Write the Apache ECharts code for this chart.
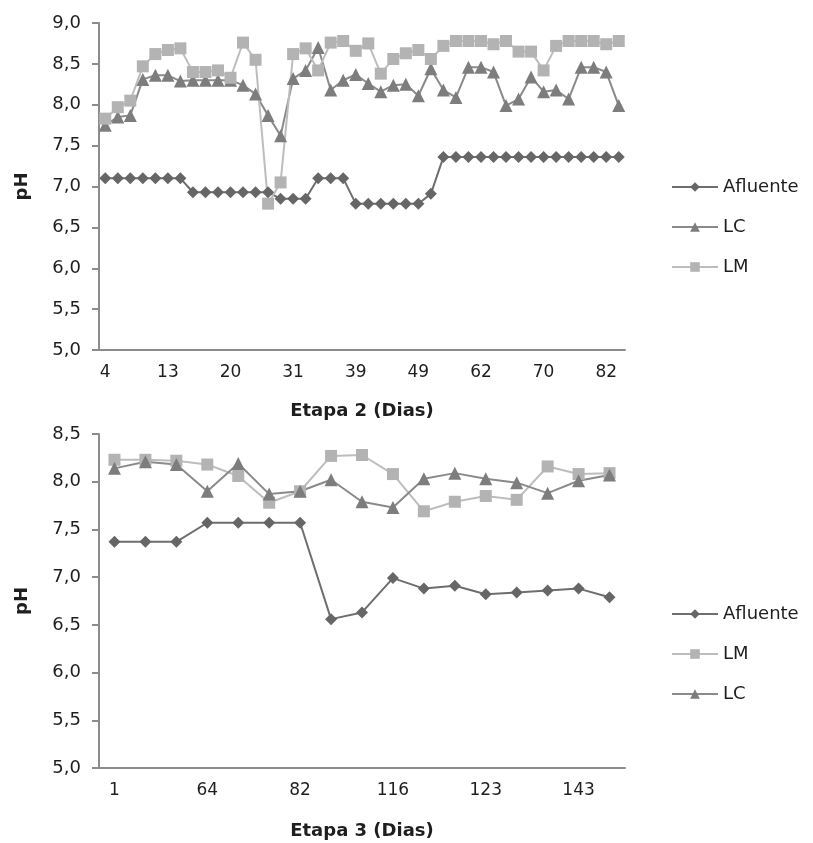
<!DOCTYPE html>
<html>
<head>
<meta charset="utf-8">
<script src="https://cdn.jsdelivr.net/npm/echarts@6/dist/echarts.min.js"></script>
<style>
html,body{margin:0;padding:0;background:#fff;}
#c{width:813px;height:843px;}
</style>
</head>
<body>
<div id="c"></div>
<script>
// ---- Etapa 2 (top chart) ----
const topTickLabels = ['4','13','20','31','39','49','62','70','82'];
const topAfluente = [7.10,7.10,7.10,7.10,7.10,7.10,7.10,
  6.93,6.93,6.93,6.93,6.93,6.93,6.93,
  6.85,6.85,6.85,
  7.10,7.10,7.10,
  6.79,6.79,6.79,6.79,6.79,6.79,
  6.91,
  7.36,7.36,7.36,7.36,7.36,7.36,7.36,7.36,7.36,7.36,7.36,7.36,7.36,7.36,7.36];
const topLC = [7.75,7.85,7.87,8.31,8.36,8.36,8.29,8.30,8.30,8.30,8.30,8.24,8.13,7.87,7.62,8.32,8.42,8.70,8.18,8.30,
  8.37,8.26,8.16,8.24,8.25,8.11,8.44,8.18,8.09,8.46,8.46,8.40,7.99,8.07,8.34,8.16,8.18,8.07,8.46,8.46,8.40,7.99];
const topLM = [7.83,7.97,8.05,8.47,8.62,8.67,8.69,8.40,8.40,8.42,8.33,8.76,8.55,6.79,7.05,8.62,8.69,8.42,8.76,8.78,
  8.66,8.75,8.38,8.56,8.63,8.67,8.56,8.72,8.78,8.78,8.78,8.74,8.78,8.65,8.65,8.42,8.72,8.78,8.78,8.78,8.74,8.78];

// ---- Etapa 3 (bottom chart) ----
const botTickLabels = ['1','64','82','116','123','143'];
const botAfluente = [7.37,7.37,7.37,7.57,7.57,7.57,7.57,6.56,6.63,6.99,6.88,6.91,6.82,6.84,6.86,6.88,6.79];
const botLM = [8.23,8.23,8.22,8.18,8.06,7.78,7.90,8.27,8.28,8.08,7.69,7.79,7.85,7.81,8.16,8.08,8.09];
const botLC = [8.14,8.21,8.18,7.90,8.19,7.87,7.90,8.02,7.79,7.73,8.03,8.09,8.03,7.99,7.88,8.01,8.07];

function buildCats(n, labels, step){
  const out = [];
  for (let i = 0; i < n; i++) out.push(i % step === 0 ? labels[i / step] : ' '.repeat(i % step));
  return out;
}
const topCats = buildCats(topAfluente.length, topTickLabels, 5);
const botCats = buildCats(botAfluente.length, botTickLabels, 3);

const FONT = 'DejaVu Sans';
const TXT = '#1e1e1e';
const AXC = '#8c8c8c';
const C_AF = '#666666', C_LC = '#7d7d7d', C_LM = '#b3b3b3';

function xAx(gi, cats, step, name, gap){
  return {
    type:'category', gridIndex:gi, data:cats, boundaryGap:true,
    axisLine:{lineStyle:{color:AXC,width:2}}, axisTick:{show:false},
    axisLabel:{interval:step-1, color:TXT, fontFamily:FONT, fontSize:17, margin:14},
    name:name, nameLocation:'middle', nameGap:gap,
    nameTextStyle:{color:TXT, fontFamily:FONT, fontSize:18, fontWeight:'bold'}
  };
}
function yAx(gi, max){
  return {
    type:'value', gridIndex:gi, min:5, max:max, interval:0.5,
    axisLine:{show:true, lineStyle:{color:AXC,width:2}},
    axisTick:{show:true, length:7, lineStyle:{color:AXC,width:2}},
    splitLine:{show:false},
    axisLabel:{color:TXT, fontFamily:FONT, fontSize:18, margin:18,
      formatter:v=>v.toFixed(1).replace('.',',')},
    name:'pH', nameLocation:'middle', nameGap:68,
    nameTextStyle:{color:TXT, fontFamily:FONT, fontSize:18, fontWeight:'bold'}
  };
}
function ser(name, data, gi, color, lineColor, symbol, size){
  return {
    name, type:'line', xAxisIndex:gi, yAxisIndex:gi, data,
    symbol, symbolSize:size, showSymbol:true, showAllSymbol:true,
    lineStyle:{color:lineColor, width:2},
    itemStyle:{color:color, borderWidth:0},
    animation:false
  };
}
const legendBase = {
  orient:'vertical', itemWidth:46, itemHeight:12, itemGap:20,
  textStyle:{color:TXT, fontFamily:FONT, fontSize:18, lineHeight:20},
  selectedMode:false
};

const chart = echarts.init(document.getElementById('c'), null, {renderer:'canvas'});
chart.setOption({
  backgroundColor:'#fff',
  animation:false,
  grid:[
    {left:99, top:23, width:526, height:327},
    {left:99, top:434, width:526, height:334}
  ],
  xAxis:[xAx(0, topCats, 5, 'Etapa 2 (Dias)', 52), xAx(1, botCats, 3, 'Etapa 3 (Dias)', 54)],
  yAxis:[yAx(0, 9), yAx(1, 8.5)],
  legend:[
    Object.assign({}, legendBase, {left:666, top:172, data:['Afluente','LC','LM']}),
    Object.assign({}, legendBase, {left:666, top:599, data:['Afluente','LM','LC']})
  ],
  series:[
    ser('Afluente', topAfluente, 0, C_AF, '#6e6e6e', 'diamond', 12),
    ser('LC', topLC, 0, C_LC, '#8a8a8a', 'triangle', 13),
    ser('LM', topLM, 0, C_LM, '#bdbdbd', 'rect', 12),
    ser('Afluente', botAfluente, 1, C_AF, '#6e6e6e', 'diamond', 12),
    ser('LM', botLM, 1, C_LM, '#bdbdbd', 'rect', 12),
    ser('LC', botLC, 1, C_LC, '#8a8a8a', 'triangle', 13)
  ]
});
</script>
</body>
</html>
